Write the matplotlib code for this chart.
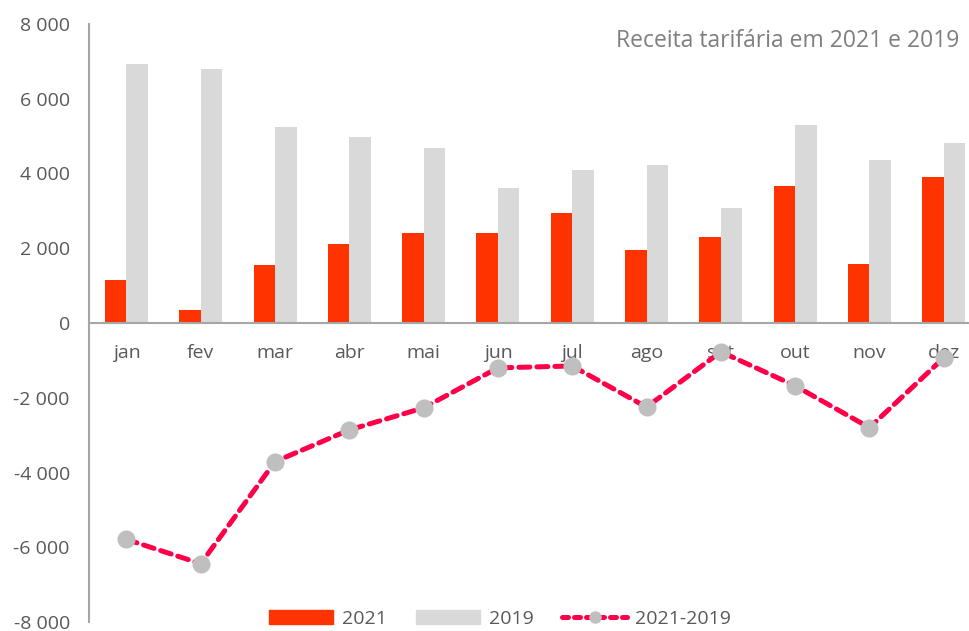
import matplotlib.pyplot as plt
import matplotlib.ticker as mticker
from matplotlib.patches import Patch
from matplotlib.lines import Line2D
import numpy as np

months = ['jan', 'fev', 'mar', 'abr', 'mai', 'jun', 'jul', 'ago', 'set', 'out', 'nov', 'dez']
rev_2021 = [1160, 340, 1550, 2110, 2400, 2400, 2940, 1950, 2300, 3660, 1590, 3900]
rev_2019 = [6920, 6790, 5240, 4970, 4680, 3610, 4090, 4220, 3075, 5290, 4370, 4820]
diff = [-5790, -6440, -3710, -2860, -2270, -1200, -1150, -2250, -770, -1680, -2800, -930]

plt.rcParams['font.family'] = ['Open Sans', 'DejaVu Sans']
txt = '#595959'
axc = '#A6A6A6'
red = '#FF3300'
grey = '#D9D9D9'
pink = '#FF0048'

fig = plt.figure(figsize=(9.7, 6.31), dpi=100)
ax = fig.add_axes([89.3 / 970, 1 - 622 / 631, 891.6 / 970, 598 / 631])

x = np.arange(len(months))
w = 0.29
ax.bar(x - w / 2, rev_2021, w, color=red, zorder=2)
ax.bar(x + w / 2, rev_2019, w, color=grey, zorder=2)
ax.plot(x, diff, color=pink, lw=3.6, dashes=(2.2, 1.4), dash_capstyle='round',
        marker='o', ms=12, mfc='#BFBFBF', mec='#BFBFBF', zorder=3)

ax.set_xlim(-0.5, 11.5)
ax.set_ylim(-8000, 8000)
ax.yaxis.set_major_locator(mticker.MultipleLocator(2000))
ax.yaxis.set_major_formatter(mticker.FuncFormatter(lambda v, p: f'{int(v):,}'.replace(',', ' ')))
ax.set_xticks(x)
ax.set_xticklabels(months)

for s in ['top', 'right']:
    ax.spines[s].set_visible(False)
ax.spines['bottom'].set_position(('data', 0))
ax.spines['bottom'].set_color(axc)
ax.spines['bottom'].set_linewidth(1.5)
ax.spines['left'].set_color(axc)
ax.spines['left'].set_linewidth(1.5)
ax.tick_params(axis='x', length=0, pad=15, labelsize=14, labelcolor=txt)
ax.tick_params(axis='y', length=0, pad=14, labelsize=14, labelcolor=txt)

fig.text(616 / 970, 1 - 41 / 631, 'Receita tarifária em 2021 e 2019', fontsize=16.5,
         color='#7F7F7F', ha='left', va='center')

handles = [
    Patch(color=red, label='2021'),
    Patch(color=grey, label='2019'),
    Line2D([0], [0], color=pink, lw=3.6, dashes=(1.2, 1.2), dash_capstyle='round',
           marker='o', ms=8, mfc='#BFBFBF', mec='#BFBFBF', label='2021-2019'),
]
fig.legend(handles=handles, loc='center', bbox_to_anchor=(500 / 970, 1 - 619 / 631), ncol=3,
           frameon=False, fontsize=14, labelcolor=txt, handlelength=3.3, handleheight=0.75,
           handletextpad=0.45, columnspacing=1.5)

fig.savefig('out.png', dpi=100)
